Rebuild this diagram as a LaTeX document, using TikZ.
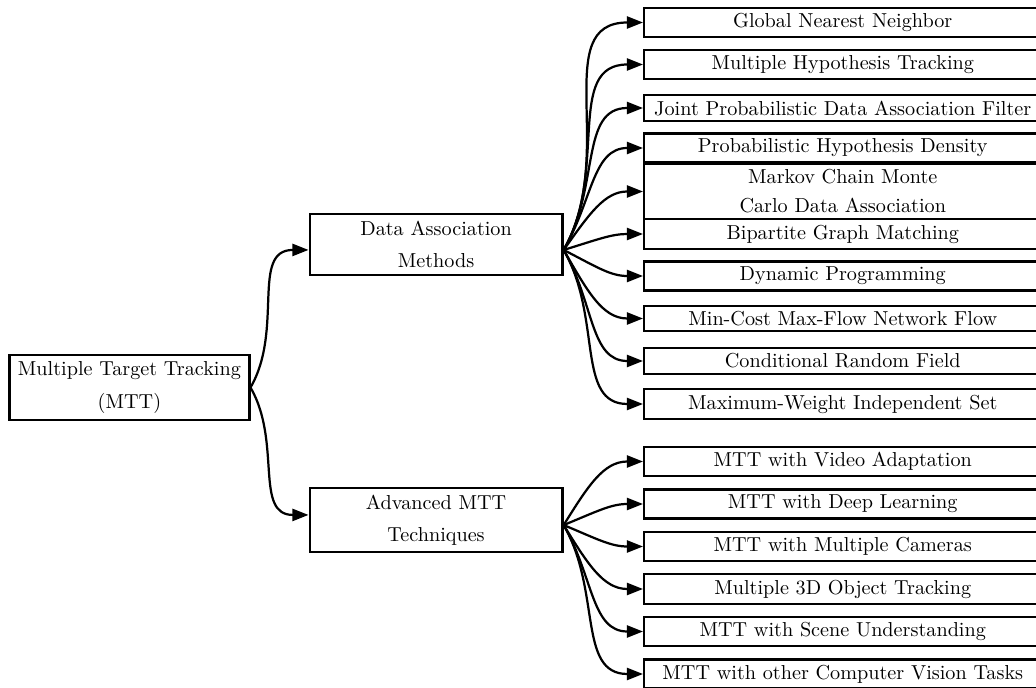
\documentclass[tikz,border=0pt]{standalone}
\usetikzlibrary{arrows.meta,calc}
\tikzset{
  leaf/.style={draw, line width=1.1pt, inner ysep=2.7pt, inner xsep=3.33pt, text width=190pt, align=center, anchor=west},
  mid/.style={draw, line width=1.1pt, align=center, minimum width=125.2pt, anchor=west},
  conn/.style={line width=1.1pt, -{Triangle[length=8pt,width=6pt]}},
}
\newcommand\linkto[2]{\draw[conn] let \p1=(#1), \p2=(#2),
  \n1={atan2(\y2-\y1,\x2-\x1)}, \n2={max(-60,min(60,1.5*\n1))},
  \n3={veclen(\x2-\x1,\y2-\y1)} in
  (\p1) .. controls ({\x1+0.45*\n3*cos(\n2)},{\y1+0.45*\n3*sin(\n2)})
  and ({\x2-0.39*\n3},\y2) .. (\p2);}
\begin{document}
\begin{tikzpicture}[x=0.495pt,y=-0.495pt]
\useasboundingbox (0,0) rectangle (1036,688);
\node[mid, minimum width=118.8pt] (root) at (8.3,387.5) {Multiple Target Tracking\\[4pt](MTT)};
\node[mid] (da) at (308.5,244.5) {Data Association\\[4pt]Methods};
\node[mid] (adv) at (308.5,520) {Advanced MTT\\[4pt]Techniques};

\node[leaf] (gnn) at (643,22.5) {Global Nearest Neighbor};
\node[leaf] (mht) at (643,64.5) {Multiple Hypothesis Tracking};
\node[leaf] (jpdaf) at (643,108) {Joint Probabilistic Data Association Filter};
\node[leaf] (phd) at (643,148) {Probabilistic Hypothesis Density};
\node[leaf] (mcmc) at (643,191.5) {Markov Chain Monte\\[2.4pt]Carlo Data Association};
\node[leaf] (bgm) at (643,234) {Bipartite Graph Matching};
\node[leaf] (dp) at (643,276) {Dynamic Programming};
\node[leaf] (mcf) at (643,318.5) {Min-Cost Max-Flow Network Flow};
\node[leaf] (crf) at (643,361) {Conditional Random Field};
\node[leaf] (mwis) at (643,404) {Maximum-Weight Independent Set};

\node[leaf] (video) at (643,461.5) {MTT with Video Adaptation};
\node[leaf] (deep) at (643,504) {MTT with Deep Learning};
\node[leaf] (cams) at (643,546.5) {MTT with Multiple Cameras};
\node[leaf] (obj) at (643,589) {Multiple 3D Object Tracking};
\node[leaf] (scene) at (643,631.5) {MTT with Scene Understanding};
\node[leaf] (cv) at (643,674) {MTT with other Computer Vision Tasks};

\linkto{root.east}{[yshift=-2.7pt]da.west}
\linkto{root.east}{[yshift=2.5pt]adv.west}
\foreach \leafname in {gnn,mht,jpdaf,phd,mcmc,bgm,dp,mcf,crf,mwis}{\linkto{[yshift=-2.7pt]da.east}{\leafname.west}}
\foreach \leafname in {video,deep,cams,obj,scene,cv}{\linkto{[yshift=-2.5pt]adv.east}{\leafname.west}}
\end{tikzpicture}
\end{document}
